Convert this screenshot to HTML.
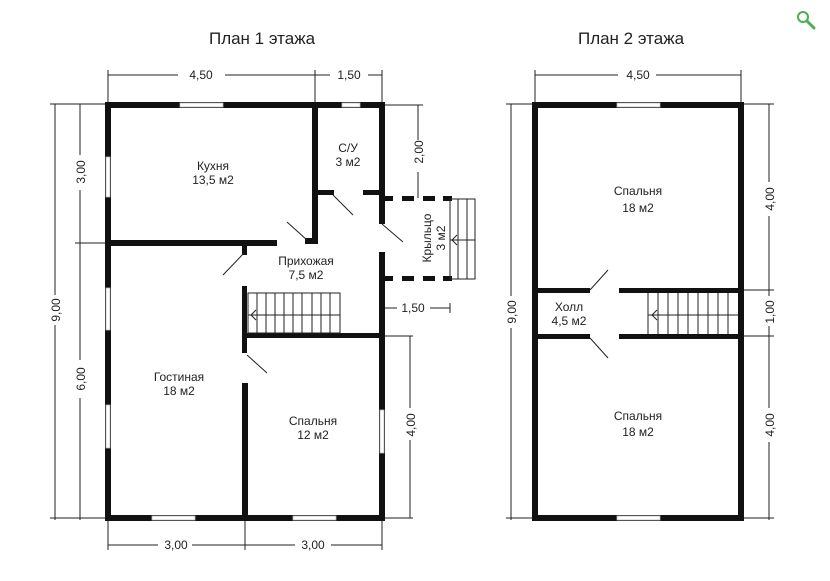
<!DOCTYPE html>
<html><head><meta charset="utf-8"><style>
html,body{margin:0;padding:0;background:#fff;width:830px;height:581px;overflow:hidden}
svg text{font-family:"Liberation Sans Narrow","Liberation Sans",sans-serif;fill:#222}
</style></head><body>
<svg width="830" height="581" viewBox="0 0 830 581" xmlns="http://www.w3.org/2000/svg">
<text x="262" y="44" font-size="17" text-anchor="middle">План 1 этажа</text>
<text x="631" y="44" font-size="17" text-anchor="middle">План 2 этажа</text>
<circle cx="803" cy="17" r="5" fill="none" stroke="#4caf50" stroke-width="2"/>
<line x1="807" y1="21" x2="814" y2="28" stroke="#4caf50" stroke-width="3" stroke-linecap="round"/>

<g stroke="#222" stroke-width="1" fill="none">
<line x1="108" y1="75" x2="178" y2="75"/><line x1="225" y1="75" x2="315" y2="75"/>
<line x1="315" y1="75" x2="330" y2="75"/><line x1="368" y1="75" x2="382" y2="75"/>
<line x1="108" y1="70" x2="108" y2="104"/><line x1="315" y1="70" x2="315" y2="104"/><line x1="382" y1="70" x2="382" y2="104"/>
<line x1="55" y1="104" x2="55" y2="295"/><line x1="55" y1="325" x2="55" y2="520"/>
<line x1="80" y1="104" x2="80" y2="155"/><line x1="80" y1="190" x2="80" y2="360"/><line x1="80" y1="398" x2="80" y2="520"/>
<line x1="50" y1="104" x2="108" y2="104"/><line x1="75" y1="243" x2="108" y2="243"/><line x1="50" y1="518" x2="108" y2="518"/>
<line x1="382" y1="105" x2="423" y2="105"/><line x1="418" y1="105" x2="418" y2="140"/><line x1="418" y1="172" x2="418" y2="198"/>
<line x1="382" y1="308" x2="397" y2="308"/><line x1="430" y1="308" x2="450" y2="308"/><line x1="450" y1="303" x2="450" y2="313"/>
<line x1="382" y1="336" x2="413" y2="336"/><line x1="410" y1="336" x2="410" y2="408"/><line x1="410" y1="440" x2="410" y2="518"/><line x1="382" y1="518" x2="413" y2="518"/>
<line x1="108" y1="518" x2="108" y2="550"/><line x1="245" y1="518" x2="245" y2="550"/><line x1="382" y1="518" x2="382" y2="550"/>
<line x1="108" y1="545" x2="158" y2="545"/><line x1="192" y1="545" x2="245" y2="545"/><line x1="245" y1="545" x2="295" y2="545"/><line x1="331" y1="545" x2="382" y2="545"/>
<line x1="535" y1="75" x2="618" y2="75"/><line x1="656" y1="75" x2="741" y2="75"/>
<line x1="535" y1="70" x2="535" y2="104"/><line x1="741" y1="70" x2="741" y2="104"/>
<line x1="511" y1="104" x2="511" y2="296"/><line x1="511" y1="328" x2="511" y2="520"/>
<line x1="506" y1="104" x2="535" y2="104"/><line x1="506" y1="518" x2="535" y2="518"/>
<line x1="741" y1="104" x2="774" y2="104"/><line x1="741" y1="290" x2="774" y2="290"/><line x1="741" y1="336" x2="774" y2="336"/><line x1="741" y1="518" x2="774" y2="518"/>
<line x1="769" y1="104" x2="769" y2="182"/><line x1="769" y1="216" x2="769" y2="296"/><line x1="769" y1="326" x2="769" y2="408"/><line x1="769" y1="442" x2="769" y2="520"/>
</g>
<g font-size="12" text-anchor="middle">
<text x="201" y="79">4,50</text><text x="349" y="79">1,50</text>
<text transform="translate(60,310) rotate(-90)">9,00</text>
<text transform="translate(85,172) rotate(-90)">3,00</text>
<text transform="translate(85,379) rotate(-90)">6,00</text>
<text transform="translate(423,152) rotate(-90)">2,00</text>
<text x="413" y="312">1,50</text>
<text transform="translate(415,425) rotate(-90)">4,00</text>
<text x="176" y="549">3,00</text><text x="313" y="549">3,00</text>
<text x="638" y="79">4,50</text>
<text transform="translate(516,312) rotate(-90)">9,00</text>
<text transform="translate(774,199) rotate(-90)">4,00</text>
<text transform="translate(774,312) rotate(-90)">1,00</text>
<text transform="translate(774,425) rotate(-90)">4,00</text>
</g>

<g fill="#111">
<rect x="105" y="102" width="280" height="6"/>
<rect x="105" y="515" width="280" height="6"/>
<rect x="105" y="102" width="6" height="419"/>
<rect x="379" y="102" width="6" height="122"/>
<rect x="379" y="252" width="6" height="269"/>
<rect x="312" y="102" width="6" height="142"/>
<rect x="105" y="240" width="172" height="6"/>
<rect x="305" y="238" width="13" height="6"/>
<rect x="312" y="190" width="22" height="5"/>
<rect x="363" y="190" width="22" height="5"/>
<rect x="242" y="240" width="5" height="15"/>
<rect x="242" y="286" width="5" height="67"/>
<rect x="242" y="383" width="6" height="138"/>
<rect x="242" y="333" width="143" height="5"/>
<rect x="385" y="196" width="8" height="5"/><rect x="402" y="196" width="12" height="5"/><rect x="423" y="196" width="12" height="5"/><rect x="443" y="196" width="9" height="5"/>
<rect x="385" y="276" width="8" height="5"/><rect x="402" y="276" width="12" height="5"/><rect x="423" y="276" width="12" height="5"/><rect x="443" y="276" width="9" height="5"/>
<rect x="532" y="102" width="212" height="6"/>
<rect x="532" y="515" width="212" height="6"/>
<rect x="532" y="102" width="6" height="419"/>
<rect x="738" y="102" width="6" height="419"/>
<rect x="532" y="288" width="58" height="5"/><rect x="619" y="288" width="125" height="5"/>
<rect x="532" y="334" width="58" height="5"/><rect x="619" y="334" width="125" height="5"/>
</g>
<g fill="#fff" stroke="#bbb" stroke-width="0.8">
<rect x="180" y="103" width="43" height="4"/><rect x="342" y="103" width="18" height="4"/>
<rect x="106" y="157" width="4" height="40"/><rect x="106" y="288" width="4" height="42"/><rect x="106" y="405" width="4" height="43"/>
<rect x="152" y="516" width="43" height="4"/><rect x="293" y="516" width="43" height="4"/>
<rect x="380" y="410" width="4" height="43"/>
<rect x="617" y="103" width="43" height="4"/><rect x="617" y="516" width="43" height="4"/>
</g>
<g stroke="#222" stroke-width="1" fill="none">
<line x1="333" y1="195" x2="353" y2="215"/>
<line x1="382" y1="224" x2="403" y2="242"/>
<line x1="287" y1="222" x2="307" y2="240"/>
<line x1="245" y1="252" x2="223" y2="275"/>
<line x1="247" y1="355" x2="267" y2="373"/>
<line x1="590" y1="290" x2="608" y2="270"/>
<line x1="590" y1="338" x2="608" y2="358"/>
<rect x="450" y="199" width="25" height="80"/>
<line x1="458" y1="199" x2="458" y2="279"/><line x1="467" y1="199" x2="467" y2="279"/>
<line x1="450" y1="240" x2="475" y2="240"/>
<path d="M457 235 L452 240 L457 245"/>
<rect x="248" y="293" width="92" height="40"/>
<line x1="257" y1="293" x2="257" y2="333"/><line x1="266" y1="293" x2="266" y2="333"/><line x1="275" y1="293" x2="275" y2="333"/><line x1="284" y1="293" x2="284" y2="333"/><line x1="293" y1="293" x2="293" y2="333"/><line x1="302" y1="293" x2="302" y2="333"/><line x1="312" y1="293" x2="312" y2="333"/><line x1="321" y1="293" x2="321" y2="333"/><line x1="330" y1="293" x2="330" y2="333"/>
<line x1="248" y1="315" x2="340" y2="315"/>
<path d="M256 310 L251 315 L256 320"/>
<line x1="648" y1="293" x2="648" y2="334"/>
<line x1="658" y1="293" x2="658" y2="334"/><line x1="668" y1="293" x2="668" y2="334"/><line x1="678" y1="293" x2="678" y2="334"/><line x1="688" y1="293" x2="688" y2="334"/><line x1="698" y1="293" x2="698" y2="334"/><line x1="708" y1="293" x2="708" y2="334"/><line x1="718" y1="293" x2="718" y2="334"/><line x1="728" y1="293" x2="728" y2="334"/>
<line x1="648" y1="315" x2="738" y2="315"/>
<path d="M657 310 L652 315 L657 320"/>
</g>
<g font-size="12" text-anchor="middle" style="fill:#111">
<text x="213" y="170">Кухня</text><text x="213" y="184">13,5 м2</text>
<text x="348" y="152">С/У</text><text x="348" y="166">3 м2</text>
<text x="306" y="265">Прихожая</text><text x="306" y="279">7,5 м2</text>
<text transform="translate(431,238) rotate(-90)">Крыльцо</text>
<text transform="translate(445,238) rotate(-90)">3 м2</text>
<text x="179" y="381">Гостиная</text><text x="179" y="395">18 м2</text>
<text x="313" y="425">Спальня</text><text x="313" y="439">12 м2</text>
<text x="638" y="195">Спальня</text><text x="638" y="212">18 м2</text>
<text x="569" y="311">Холл</text><text x="569" y="325">4,5 м2</text>
<text x="638" y="420">Спальня</text><text x="638" y="436">18 м2</text>
</g>
</svg>
</body></html>
